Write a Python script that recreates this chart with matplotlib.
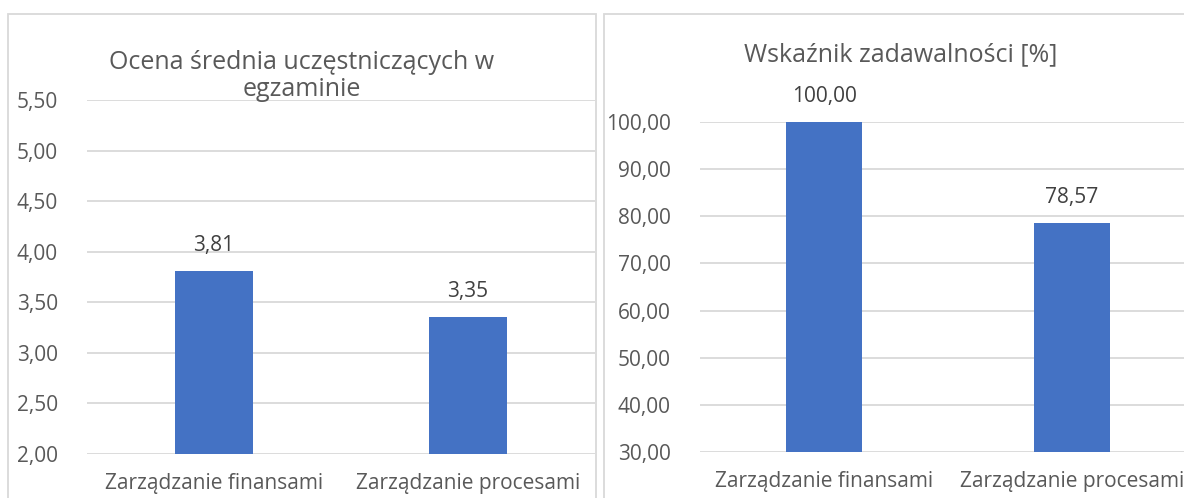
import matplotlib
matplotlib.use('Agg')
import matplotlib.pyplot as plt
from matplotlib.patches import Rectangle

plt.rcParams['font.family'] = ['Open Sans', 'DejaVu Sans']

# dane
kursy = ['Zarządzanie finansami', 'Zarządzanie procesami']
oceny = [3.81, 3.35]
zadowolenie = [100.00, 78.57]

tytul_lewy = 'Ocena średnia uczęstniczących w\negzaminie'
tytul_prawy = 'Wskaźnik zadawalności [%]'

kolor_slupka = '#4472c4'
kolor_siatki = '#d9d9d9'
kolor_osi = '#595959'
kolor_etykiet = '#404040'

W, H = 1184, 498
fig = plt.figure(figsize=(W / 100, H / 100), dpi=100)

# ramki obu wykresow
fig.patches.append(Rectangle((8 / W, -0.1), (596 - 8) / W, (H - 14) / H + 0.1,
                             transform=fig.transFigure, fill=False,
                             edgecolor=kolor_siatki, lw=1.3))
fig.patches.append(Rectangle((604 / W, -0.1), 1.0, (H - 14) / H + 0.1,
                             transform=fig.transFigure, fill=False,
                             edgecolor=kolor_siatki, lw=1.3))


def rysuj(ax, wartosci, ymin, ymax, krok, tytul, tytul_x, tytul_y):
    x = range(len(kursy))
    ax.bar(x, wartosci, width=0.31, color=kolor_slupka, zorder=3)
    ax.set_xlim(-0.5, len(kursy) - 0.5)
    ax.set_ylim(ymin, ymax)
    ticks = []
    t = ymin
    while t <= ymax + 1e-9:
        ticks.append(t)
        t += krok
    ax.set_yticks(ticks)
    ax.set_yticklabels([('%.2f' % v).replace('.', ',') for v in ticks])
    ax.set_xticks(list(x))
    ax.set_xticklabels(kursy)
    ax.grid(axis='y', color=kolor_siatki, lw=1.3, zorder=0)
    ax.set_axisbelow(True)
    for s in ax.spines.values():
        s.set_visible(False)
    ax.tick_params(length=0, labelsize=15, labelcolor=kolor_osi)
    ax.tick_params(axis='y', pad=21)
    ax.tick_params(axis='x', pad=14)
    for i, v in enumerate(wartosci):
        ax.annotate(('%.2f' % v).replace('.', ','), (i, v), xytext=(0, 11),
                    textcoords='offset points', ha='center', va='bottom',
                    fontsize=15, color=kolor_etykiet)
    fig.text(tytul_x / W, 1 - tytul_y / H, tytul, ha='center', va='center',
             fontsize=18, color=kolor_osi, linespacing=1.12)


ax1 = fig.add_axes([87 / W, (H - 454) / H, (595 - 87) / W, (454 - 100) / H])
rysuj(ax1, oceny, 2.0, 5.5, 0.5, tytul_lewy, 302, 76)

ax2 = fig.add_axes([700 / W, (H - 452) / H, 496 / W, (452 - 122) / H])
rysuj(ax2, zadowolenie, 30, 100, 10, tytul_prawy, 901, 55)

fig.savefig('out.png', dpi=100)
